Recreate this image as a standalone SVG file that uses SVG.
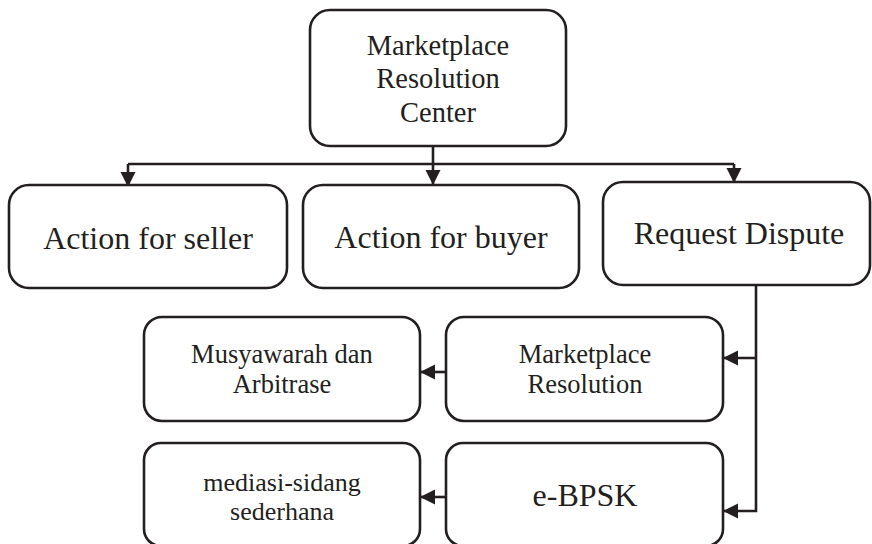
<svg xmlns="http://www.w3.org/2000/svg" width="872" height="544" viewBox="0 0 872 544">
<style>
.box{fill:#fff;stroke:#231f20;stroke-width:2.6}
text{font-family:'Liberation Serif','Tinos','Times New Roman',serif;fill:#231f20;text-anchor:middle}
.big{font-size:32px}
.mid{font-size:28.5px}
.sm{font-size:26.5px}
.xs{font-size:26px}
.ln{fill:none;stroke:#231f20;stroke-width:2.6}
</style>
<defs>
<marker id="ah" markerUnits="userSpaceOnUse" markerWidth="16" markerHeight="16" refX="15" refY="7.5" orient="auto">
<path d="M0,0 L15,7.5 L0,15 z" fill="#231f20"/>
</marker>
</defs>
<g id="connectors">
<path class="ln" d="M433,146 V185" marker-end="url(#ah)"/>
<path class="ln" d="M128,164 H734"/>
<path class="ln" d="M128,164 V187" marker-end="url(#ah)"/>
<path class="ln" d="M734,164 V183" marker-end="url(#ah)"/>
<path class="ln" d="M756,285 V511 H723" marker-end="url(#ah)"/>
<path class="ln" d="M756,358 H723" marker-end="url(#ah)"/>
<path class="ln" d="M446,372 H420" marker-end="url(#ah)"/>
<path class="ln" d="M446,497 H420" marker-end="url(#ah)"/>
</g>
<g id="center">
<rect class="box" x="310" y="10" width="256" height="136" rx="20"/>
<text class="mid" x="438" y="55">Marketplace</text>
<text class="mid" x="438" y="88">Resolution</text>
<text class="mid" x="438" y="122">Center</text>
</g>
<g id="seller">
<rect class="box" x="9" y="185" width="278" height="103" rx="20"/>
<text class="big" x="148" y="249">Action for seller</text>
</g>
<g id="buyer">
<rect class="box" x="303" y="185" width="276" height="103" rx="20"/>
<text class="big" x="441" y="248">Action for buyer</text>
</g>
<g id="dispute">
<rect class="box" x="603" y="182" width="267" height="103" rx="20"/>
<text class="big" x="739" y="244">Request Dispute</text>
</g>
<g id="mresolution">
<rect class="box" x="446" y="317" width="277" height="104" rx="18"/>
<text class="sm" x="585" y="363">Marketplace</text>
<text class="sm" x="585" y="393">Resolution</text>
</g>
<g id="musyawarah">
<rect class="box" x="144" y="317" width="276" height="104" rx="18"/>
<text class="sm" x="282" y="363">Musyawarah dan</text>
<text class="sm" x="282" y="393">Arbitrase</text>
</g>
<g id="ebpsk">
<rect class="box" x="446" y="443" width="277" height="103" rx="17"/>
<text class="big" x="585" y="506">e-BPSK</text>
</g>
<g id="mediasi">
<rect class="box" x="144" y="443" width="276" height="103" rx="17"/>
<text class="xs" x="282" y="491">mediasi-sidang</text>
<text class="xs" x="282" y="520">sederhana</text>
</g>
</svg>
